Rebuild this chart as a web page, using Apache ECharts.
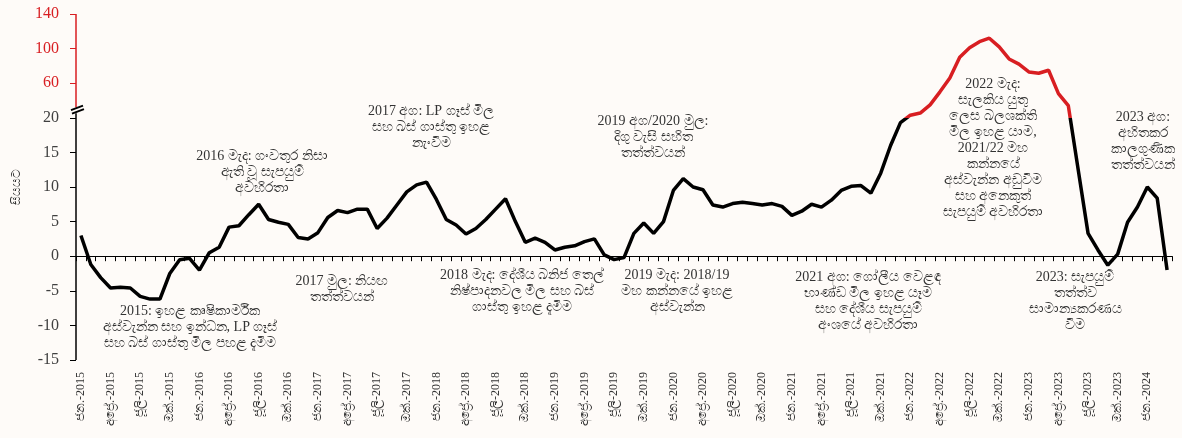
<!DOCTYPE html>
<html lang="si">
<head>
<meta charset="utf-8">
<title>උද්ධමනය</title>
<style>
  html, body { margin: 0; padding: 0; background: #fefbf8; }
  #main { width: 1182px; height: 438px; }
</style>
</head>
<body>
<div id="main"></div>
<script src="https://cdn.jsdelivr.net/npm/echarts@6/dist/echarts.min.js"></script>
<script>
// ---- data ----
var months = ['ජන.', 'පෙබ.', 'මාර්.', 'අප්‍රේ.', 'මැයි', 'ජූනි', 'ජූලි', 'අගෝ.', 'සැප්.', 'ඔක්.', 'නොවැ.', 'දෙසැ.'];
var years = [2015, 2016, 2017, 2018, 2019, 2020, 2021, 2022, 2023, 2024];

// monthly values, Jan 2015 - Mar 2024 (per cent)
var values = [
  3.0, -1.2, -3.1, -4.6, -4.5, -4.6, -5.8, -6.2, -6.2, -2.5, -0.5, -0.3,
  -2.0, 0.5, 1.3, 4.2, 4.4, 6.0, 7.5, 5.3, 4.9, 4.6, 2.7, 2.5,
  3.4, 5.6, 6.6, 6.3, 6.8, 6.8, 4.0, 5.5, 7.4, 9.3, 10.3, 10.7,
  8.2, 5.3, 4.5, 3.2, 4.0, 5.3, 6.8, 8.3, 5.0, 2.0, 2.6, 2.0,
  0.9, 1.3, 1.5, 2.1, 2.5, 0.2, -0.5, -0.2, 3.3, 4.8, 3.3, 5.0,
  9.5, 11.2, 10.0, 9.6, 7.4, 7.1, 7.6, 7.8, 7.6, 7.4, 7.6, 7.2,
  5.9, 6.5, 7.5, 7.1, 8.1, 9.5, 10.1, 10.2, 9.1, 12.0, 16.0, 19.3,
  23, 25.5, 35, 50, 66, 90, 101, 108, 112, 102, 88, 82,
  73, 71.5, 75, 48, 34, 12.5, 3.3, 0.9, -1.3, 0.3, 4.9, 7.1,
  10.0, 8.4, -2.0
];

var lowerTicks = [-15, -10, -5, 0, 5, 10, 15, 20];
var upperTicks = [60, 100, 140];

var notes = [
  '2015: ඉහළ කෘෂිකාර්මික\nඅස්වැන්න සහ ඉන්ධන, LP ගෑස්\nසහ බස් ගාස්තු මිල පහළ දැමීම',
  '2016 මැද: ගංවතුර නිසා\nඇති වූ සැපයුම්\nඅවහිරතා',
  '2017 මුල: නියඟ\nතත්ත්වයන්',
  '2017 අග: LP ගෑස් මිල\nසහ බස් ගාස්තු ඉහළ\nනැංවීම',
  '2018 මැද: දේශීය බනිජ තෙල්\nනිෂ්පාදනවල මිල සහ බස්\nගාස්තු ඉහළ දැමීම',
  '2019 මැද: 2018/19\nමහ කන්නයේ ඉහළ\nඅස්වැන්න',
  '2019 අග/2020 මුල:\nදිගු වැසි සහිත\nතත්ත්වයන්',
  '2021 අග: ගෝලීය වෙළඳ\nභාණ්ඩ මිල ඉහළ යෑම\nසහ දේශීය සැපයුම්\nඅංශයේ අවහිරතා',
  '2022 මැද:\nසැලකිය යුතු\nලෙස බලශක්ති\nමිල ඉහළ යාම,\n2021/22 මහ\nකන්නයේ\nඅස්වැන්න අඩුවීම\nසහ අනෙකුත්\nසැපයුම් අවහිරතා',
  '2023: සැපයුම්\nතත්ත්ව\nසාමාන්‍යකරණය\nවීම',
  '2023 අග:\nඅහිතකර\nකාලගුණික\nතත්ත්වයන්'
];
// centre x / top y of each note
var notePos = [
  [190, 303], [262, 148], [342, 273], [431, 103], [522, 267], [677, 267],
  [653, 113], [868, 269], [993, 76], [1075, 269], [1143, 109]
];

// ---- broken axis: above 20 the scale is squeezed 8x ----
var BRK = 20, SQ = 8;
function toAxis(v) { return v <= BRK ? v : BRK + (v - BRK) / SQ; }
function fromAxis(t) { return t <= BRK ? t : BRK + (t - BRK) * SQ; }

var categories = [];
years.forEach(function (y) {
  months.forEach(function (m) {
    if (categories.length < values.length) categories.push(m + '-' + y);
  });
});

var RED = '#d81e22';
var FONT = '"Liberation Serif", serif';
var gridLeft = 76;

var myChart = echarts.init(document.getElementById('main'));

myChart.setOption({
  backgroundColor: '#fefbf8',
  animation: false,
  grid: { left: gridLeft, right: 10, top: 14, bottom: 78 },
  xAxis: [{
    type: 'category',
    data: categories,
    position: 'bottom',
    boundaryGap: true,
    axisLine: { show: false, onZero: false },
    axisTick: { show: false },
    axisLabel: {
      rotate: 90, interval: 2, margin: 12,
      fontSize: 12, color: '#333', fontFamily: FONT
    }
  }, {
    type: 'category',
    data: categories,
    position: 'bottom',
    boundaryGap: true,
    axisLine: { show: true, onZero: true, lineStyle: { color: '#000', width: 1 } },
    axisTick: { show: true, interval: 0, length: 5, lineStyle: { color: '#000' } },
    axisLabel: { show: false }
  }],
  yAxis: [{
    type: 'value',
    position: 'left',
    min: -15, max: 35, interval: 5,
    name: 'සියයට',
    nameLocation: 'middle',
    nameGap: 53,
    nameTextStyle: { fontSize: 12, color: '#333', fontFamily: FONT },
    axisLine: { show: false },
    axisTick: { show: true, length: 6, customValues: lowerTicks, lineStyle: { color: '#000' } },
    axisLabel: { customValues: lowerTicks, margin: 17, fontSize: 16, color: '#404040', fontFamily: FONT },
    splitLine: { show: false }
  }, {
    type: 'value',
    position: 'left',
    min: -15, max: 35, interval: 5,
    axisLine: { show: false },
    axisTick: { show: true, length: 6, customValues: upperTicks.map(toAxis), lineStyle: { color: RED } },
    axisLabel: {
      customValues: upperTicks.map(toAxis), margin: 17, fontSize: 16, color: RED, fontFamily: FONT,
      formatter: function (t) { return String(Math.round(fromAxis(t))); }
    },
    splitLine: { show: false }
  }],
  visualMap: {
    show: false,
    type: 'piecewise',
    seriesIndex: 0,
    dimension: 1,
    pieces: [
      { gte: -100, lte: BRK, color: '#000' },
      { gt: BRK, lte: 100, color: RED }
    ]
  },
  series: [{
    type: 'line',
    xAxisIndex: 0,
    yAxisIndex: 0,
    data: values.map(toAxis),
    symbol: 'none',
    lineStyle: { width: 3.5 },
    z: 5
  }]
});

// axis line with break marks + annotations
var yTop = myChart.convertToPixel({ yAxisIndex: 0 }, 35);
var yBot = myChart.convertToPixel({ yAxisIndex: 0 }, -15);
var yBrk = myChart.convertToPixel({ yAxisIndex: 0 }, 21.1);

var graphics = [
  { type: 'line', shape: { x1: gridLeft, y1: yTop, x2: gridLeft, y2: yBrk - 3 }, style: { stroke: RED, lineWidth: 1.5 } },
  { type: 'line', shape: { x1: gridLeft, y1: yBrk + 3, x2: gridLeft, y2: yBot }, style: { stroke: '#000', lineWidth: 1.5 } },
  { type: 'line', shape: { x1: gridLeft - 5, y1: yBrk, x2: gridLeft + 7, y2: yBrk - 4.5 }, style: { stroke: '#000', lineWidth: 2 } },
  { type: 'line', shape: { x1: gridLeft - 4, y1: yBrk + 3.5, x2: gridLeft + 8, y2: yBrk - 1 }, style: { stroke: '#000', lineWidth: 2 } }
];
notes.forEach(function (txt, i) {
  graphics.push({
    type: 'text',
    x: notePos[i][0],
    y: notePos[i][1],
    z: 10,
    style: {
      text: txt, align: 'center', verticalAlign: 'top',
      fontSize: 14, lineHeight: 16, fontFamily: FONT, fill: '#333'
    }
  });
});
myChart.setOption({ graphic: graphics });
</script>
</body>
</html>
